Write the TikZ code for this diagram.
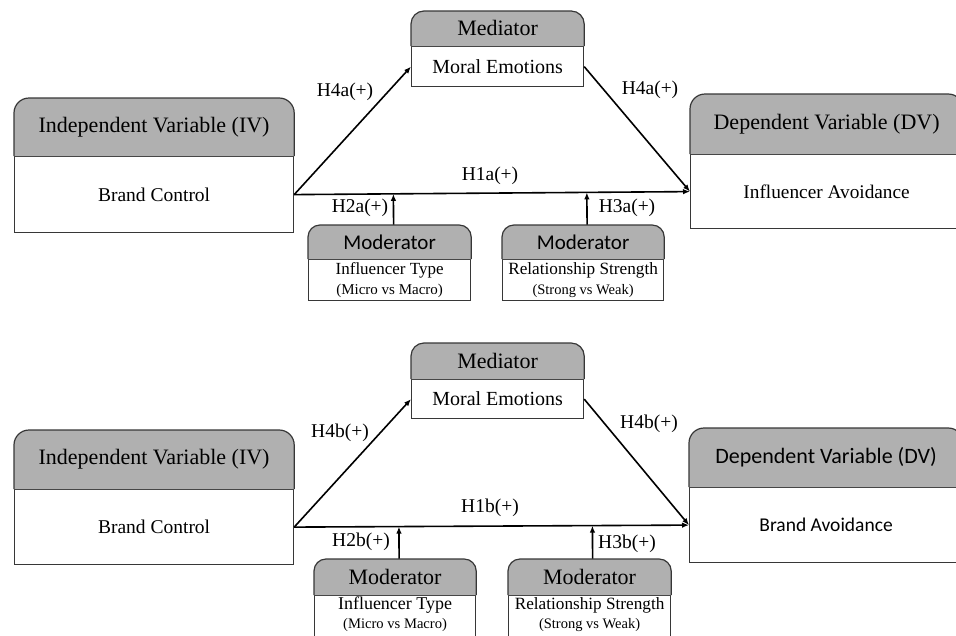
\documentclass[tikz,border=0pt]{standalone}
\usepackage{fontspec}
\setmainfont{Liberation Serif}
\newfontfamily\calibri{Carlito}
\usetikzlibrary{positioning,calc,arrows.meta}
\definecolor{headgray}{RGB}{176,176,176}
\definecolor{boxline}{RGB}{55,55,55}

\begin{document}
\begin{tikzpicture}[x=1pt,y=-1pt,
  body/.style={draw=boxline,line width=1.2pt,fill=white,inner sep=0pt,anchor=north west,align=center},
  head/.style={draw=boxline,line width=1.2pt,fill=headgray},
  headtext/.style={inner sep=0pt,minimum width=#1},
  link/.style={line width=1.6pt,-{Latex[length=7pt,width=5.5pt]}},
  hyp/.style={inner sep=0pt,font=\fontsize{19.5}{23}\selectfont}]
\path[use as bounding box] (0,0) rectangle (956,635);
% ---- model a
\node[body,minimum width=279,minimum height=76,font=\fontsize{19.5}{23}\selectfont] (iv1) at (14,156) {Brand Control};
\filldraw[head,rounded corners=15] (iv1.north west) -- ++(0,-58) -| (iv1.north east);
\node[headtext=279,minimum height=58,above=0pt of iv1,font=\fontsize{22}{26}\selectfont] (iv1h) {Independent Variable (IV)};
\node[body,minimum width=172,minimum height=40,font=\fontsize{20}{24}\selectfont] (med1) at (411,46) {Moral Emotions};
\filldraw[head,rounded corners=13] (med1.north west) -- ++(0,-35) -| (med1.north east);
\node[headtext=172,minimum height=35,above=0pt of med1,font=\fontsize{22}{26}\selectfont] (med1h) {Mediator};
\node[body,minimum width=272,minimum height=74,font=\fontsize{19.3}{23}\selectfont] (dv1) at (690,154) {Influencer Avoidance};
\filldraw[head,rounded corners=15] (dv1.north west) -- ++(0,-60) -| (dv1.north east);
\node[headtext=272,minimum height=60,above=0pt of dv1,font=\fontsize{22}{26}\selectfont] (dv1h) {Dependent Variable (DV)};
\node[body,minimum width=162,minimum height=41,font=\fontsize{15}{20}\selectfont] (mod1a) at (308,259) {{\fontsize{17}{20}\selectfont Influencer Type}\\(Micro vs Macro)};
\filldraw[head,rounded corners=12] (mod1a.north west) -- ++(0,-34) -| (mod1a.north east);
\node[headtext=162,minimum height=34,above=0pt of mod1a,font=\calibri\fontsize{21}{25}\selectfont] (mod1ah) {Moderator};
\node[body,minimum width=161,minimum height=41,font=\fontsize{14.5}{20}\selectfont] (mod1b) at (502,259) {{\fontsize{17.2}{20}\selectfont Relationship Strength}\\(Strong vs Weak)};
\filldraw[head,rounded corners=12] (mod1b.north west) -- ++(0,-34) -| (mod1b.north east);
\node[headtext=161,minimum height=34,above=0pt of mod1b,font=\calibri\fontsize{21}{25}\selectfont] (mod1bh) {Moderator};
\draw[link] (iv1.east) -- (med1.west);
\draw[link] (med1.east) -- (dv1.west);
\draw[link] (iv1.east) -- (dv1.west);
\coordinate (m1a) at ([xshift=4pt]mod1ah.north);
\coordinate (m1b) at ([xshift=4pt]mod1bh.north);
\draw[link] (m1a) -- ($(iv1.east)!(m1a)!(dv1.west)$);
\draw[link] (m1b) -- ($(iv1.east)!(m1b)!(dv1.west)$);
\node[hyp] (h4a1) at (345,92) {H4a(+)};
\node[hyp] (h4a2) at (650,90) {H4a(+)};
\node[hyp] (h1a) at (490,176) {H1a(+)};
\node[hyp] (h2a) at (360,208) {H2a(+)};
\node[hyp] (h3a) at (627,208) {H3a(+)};
% ---- model b
\node[body,minimum width=172,minimum height=39,font=\fontsize{20}{24}\selectfont] (med2) at (411,379) {Moral Emotions};
\filldraw[head,rounded corners=13] (med2.north west) -- ++(0,-36) -| (med2.north east);
\node[headtext=172,minimum height=36,above=0pt of med2,font=\fontsize{22}{26}\selectfont] (med2h) {Mediator};
\node[body,minimum width=279,minimum height=75,font=\fontsize{19.5}{23}\selectfont] (iv2) at (14,489) {Brand Control};
\filldraw[head,rounded corners=15] (iv2.north west) -- ++(0,-59) -| (iv2.north east);
\node[headtext=279,minimum height=59,above=0pt of iv2,font=\fontsize{22}{26}\selectfont] (iv2h) {Independent Variable (IV)};
\node[body,minimum width=273,minimum height=75,font=\calibri\fontsize{19.5}{23}\selectfont] (dv2) at (689,487) {Brand Avoidance};
\filldraw[head,rounded corners=15] (dv2.north west) -- ++(0,-59) -| (dv2.north east);
\node[headtext=273,minimum height=59,above=0pt of dv2,font=\calibri\fontsize{22}{26}\selectfont] (dv2h) {Dependent Variable (DV)};
% bottom edge of these two runs off the page
\node[body,minimum width=161,minimum height=43,font=\fontsize{14.6}{19}\selectfont] (mod2a) at (314,595) {{\fontsize{18}{19}\selectfont Influencer Type}\\(Micro vs Macro)\\[-10pt]\mbox{}};
\filldraw[head,rounded corners=12] (mod2a.north west) -- ++(0,-36) -| (mod2a.north east);
\node[headtext=161,minimum height=36,above=0pt of mod2a,font=\fontsize{22}{26}\selectfont] (mod2ah) {Moderator};
\node[body,minimum width=162,minimum height=43,font=\fontsize{14.5}{19}\selectfont] (mod2b) at (508,595) {{\fontsize{17.2}{19}\selectfont Relationship Strength}\\(Strong vs Weak)\\[-10pt]\mbox{}};
\filldraw[head,rounded corners=12] (mod2b.north west) -- ++(0,-36) -| (mod2b.north east);
\node[headtext=162,minimum height=36,above=0pt of mod2b,font=\fontsize{22}{26}\selectfont] (mod2bh) {Moderator};
\draw[link] (iv2.east) -- (med2.west);
\draw[link] (med2.east) -- (dv2.west);
\draw[link] (iv2.east) -- (dv2.west);
\coordinate (m2a) at ([xshift=4pt]mod2ah.north);
\coordinate (m2b) at ([xshift=3pt]mod2bh.north);
\draw[link] (m2a) -- ($(iv2.east)!(m2a)!(dv2.west)$);
\draw[link] (m2b) -- ($(iv2.east)!(m2b)!(dv2.west)$);
\node[hyp] (h4b1) at (340,433) {H4b(+)};
\node[hyp] (h4b2) at (649,424) {H4b(+)};
\node[hyp] (h1b) at (490,508) {H1b(+)};
\node[hyp] (h2b) at (361,542) {H2b(+)};
\node[hyp] (h3b) at (627,544) {H3b(+)};
\end{tikzpicture}
\end{document}
